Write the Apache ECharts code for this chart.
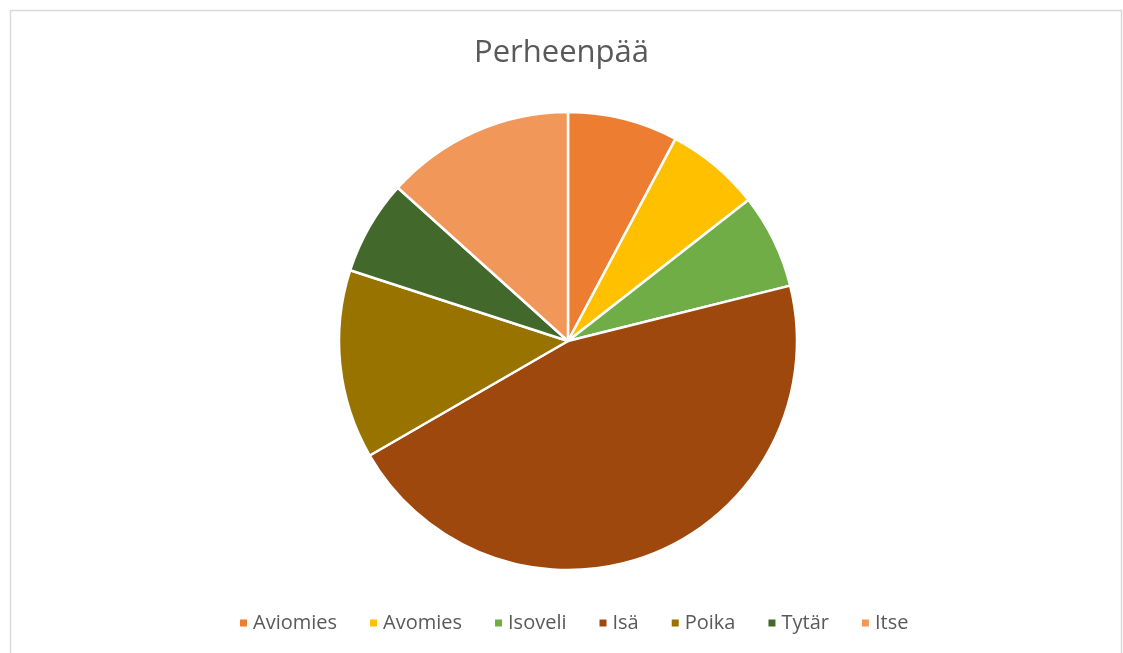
<!DOCTYPE html>
<html>
<head>
<meta charset="utf-8">
<script src="https://cdn.jsdelivr.net/npm/echarts@6/dist/echarts.min.js"></script>
<style>
  html, body { margin: 0; padding: 0; background: #fff; }
  #main { width: 1123px; height: 653px; }
</style>
</head>
<body>
<div id="main"></div>
<script>
// data
var categories = ['Aviomies', 'Avomies', 'Isoveli', 'Isä', 'Poika', 'Tytär', 'Itse'];
var values = [7, 6, 6, 41, 12, 6, 12];
var colors = ['#ED7D31', '#FFC000', '#70AD47', '#9E480E', '#997300', '#43682B', '#F1975A'];

var pieData = [];
categories.forEach(function (name, i) {
  pieData.push({ name: name, value: values[i], itemStyle: { color: colors[i] } });
});

var myChart = echarts.init(document.getElementById('main'));

var option = {
  animation: false,
  backgroundColor: '#fff',
  textStyle: { fontFamily: 'Open Sans' },
  title: {
    text: 'Perheenpää',
    left: 'center',
    top: 33,
    textStyle: { color: '#595959', fontSize: 31, fontWeight: 'normal', fontFamily: 'Open Sans' }
  },
  legend: {
    bottom: 15,
    left: 233,
    itemWidth: 9,
    itemHeight: 9,
    itemGap: 31,
    icon: 'rect',
    textStyle: { color: '#595959', fontSize: 20, fontFamily: 'Open Sans' },
    data: categories
  },
  graphic: [{
    type: 'rect',
    shape: { x: 10.5, y: 10.5, width: 1111, height: 660 },
    style: { fill: 'none', stroke: '#d9d9d9', lineWidth: 1.5 },
    silent: true
  }],
  series: [{
    type: 'pie',
    center: [568, 341],
    radius: 229,
    startAngle: 90,
    clockwise: true,
    label: { show: false },
    labelLine: { show: false },
    itemStyle: { borderColor: '#fff', borderWidth: 2.5 },
    emphasis: { disabled: true },
    data: pieData
  }]
};

myChart.setOption(option);
</script>
</body>
</html>
